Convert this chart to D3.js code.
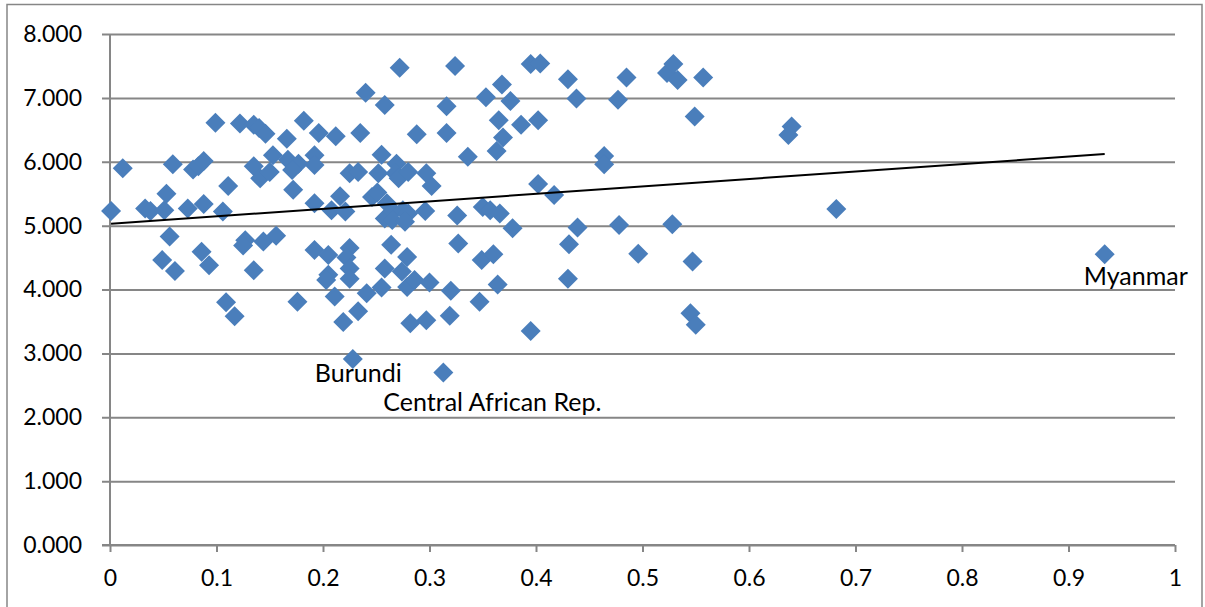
<!DOCTYPE html>
<html><head><meta charset="utf-8">
<script src="https://cdn.jsdelivr.net/npm/d3@7"></script>
<style>body{margin:0;background:#fff}svg{display:block}text{font-family:Lato,"Open Sans",sans-serif;fill:#000}</style>
</head><body>
<svg id="c" width="1205" height="607"></svg>
<script>
const pointX = [0.001,0.012,0.033,0.038,0.051,0.053,0.049,0.056,0.059,0.061,0.073,0.078,0.083,0.088,0.088,0.086,0.093,0.099,0.106,0.111,0.109,0.117,0.122,0.127,0.125,0.144,0.156,0.135,0.135,0.140,0.146,0.135,0.141,0.150,0.153,0.166,0.167,0.177,0.171,0.172,0.176,0.182,0.192,0.192,0.196,0.192,0.192,0.205,0.205,0.203,0.211,0.212,0.216,0.208,0.221,0.225,0.233,0.225,0.222,0.225,0.225,0.219,0.233,0.228,0.235,0.240,0.241,0.246,0.251,0.252,0.255,0.258,0.255,0.258,0.264,0.260,0.258,0.266,0.265,0.275,0.280,0.277,0.296,0.269,0.268,0.271,0.280,0.297,0.302,0.272,0.279,0.274,0.279,0.286,0.300,0.282,0.297,0.288,0.316,0.316,0.324,0.326,0.327,0.320,0.319,0.313,0.336,0.347,0.349,0.360,0.350,0.357,0.366,0.353,0.363,0.365,0.368,0.369,0.364,0.376,0.378,0.386,0.395,0.395,0.404,0.402,0.402,0.417,0.430,0.431,0.430,0.438,0.439,0.464,0.464,0.477,0.478,0.485,0.496,0.523,0.529,0.533,0.528,0.547,0.545,0.550,0.549,0.557,0.640,0.637,0.682,0.934];
const pointY = [5.23,5.90,5.27,5.23,5.24,5.50,4.46,4.83,5.96,4.29,5.27,5.88,5.93,6.01,5.34,4.59,4.38,6.61,5.22,5.62,3.80,3.58,6.60,4.77,4.69,4.75,4.84,4.30,6.58,6.53,6.44,5.93,5.74,5.84,6.10,6.36,6.03,5.97,5.87,5.56,3.81,6.64,6.10,5.95,6.45,5.35,4.62,4.54,4.23,4.15,3.89,6.40,5.46,5.24,5.22,5.82,5.84,4.65,4.50,4.33,4.17,3.49,3.66,2.91,6.45,7.08,3.94,5.45,5.52,5.82,6.11,6.89,4.03,4.33,4.70,5.35,5.11,5.22,5.09,5.24,5.19,5.06,5.23,5.97,5.82,5.74,5.84,5.82,5.62,7.47,4.51,4.28,4.04,4.15,4.11,3.47,3.52,6.43,6.87,6.45,7.50,5.16,4.72,3.98,3.59,2.70,6.08,3.81,4.46,4.55,5.29,5.24,5.19,7.01,6.17,6.65,7.21,6.38,4.08,6.95,4.96,6.58,3.35,7.53,7.54,6.65,5.65,5.48,7.29,4.71,4.17,6.99,4.97,6.09,5.96,6.97,5.01,7.32,4.56,7.39,7.53,7.28,5.02,4.44,3.63,3.45,6.71,7.32,6.55,6.42,5.26,4.55];
const labelNames = ["Burundi","Central African Rep.","Myanmar"];
const labelX = [0.228,0.313,0.934];
const labelY = [2.91,2.70,4.55];
const trendIntercept = 5.03;
const trendSlope = 1.167;
const xTicks = [0,0.1,0.2,0.3,0.4,0.5,0.6,0.7,0.8,0.9,1];
const yTicks = [0,1,2,3,4,5,6,7,8];

const svg = d3.select("#c");
const x = d3.scaleLinear().domain([0,1]).range([110,1175]);
const y = d3.scaleLinear().domain([0,8]).range([545,34]);
const grid = "#868686";

svg.append("rect").attr("x",7).attr("y",4.5).attr("width",1195).attr("height",620)
  .attr("fill","none").attr("stroke",grid).attr("stroke-width",1.5);

// horizontal gridlines + y labels
const gy = svg.append("g").attr("transform","translate(1175,0)");
gy.call(d3.axisLeft(y).tickValues(yTicks).tickSize(1175-102).tickFormat(d3.format(".3f")));
gy.select(".domain").remove();
gy.selectAll(".tick line").attr("stroke",grid).attr("stroke-width",2);
gy.selectAll(".tick text").attr("font-size",23).attr("font-family","Lato").attr("fill","#000").attr("x",-(1175-82)).attr("text-anchor","end");

// y axis line
svg.append("line").attr("x1",110).attr("x2",110).attr("y1",y(8)).attr("y2",y(0)).attr("stroke",grid).attr("stroke-width",2);

// x axis
const gx = svg.append("g").attr("transform",`translate(0,${y(0)})`);
gx.call(d3.axisBottom(x).tickValues(xTicks).tickSize(7).tickSizeOuter(0).tickFormat(d=>String(+d.toFixed(1))).tickPadding(18));
gx.select(".domain").attr("stroke",grid).attr("stroke-width",2).attr("d",`M102,0H1175`);
gx.selectAll(".tick line").attr("stroke",grid).attr("stroke-width",2);
gx.selectAll(".tick text").attr("font-size",23).attr("font-family","Lato").attr("fill","#000");

// points
const diamond = "M0,-10L10,0L0,10L-10,0Z";
svg.append("g").selectAll("path").data(pointX.map((v,i)=>[v,pointY[i]])).join("path")
  .attr("d",diamond).attr("transform",d=>`translate(${x(d[0])},${y(d[1])})`).attr("fill","#4a7ebb");

// trend line
const xMin = d3.min(pointX), xMax = d3.max(pointX);
svg.append("line").attr("x1",x(xMin)).attr("y1",y(trendIntercept+trendSlope*xMin))
  .attr("x2",x(xMax)).attr("y2",y(trendIntercept+trendSlope*xMax)).attr("stroke","#000").attr("stroke-width",2);

// labels
const offs = [[-38,23],[-60,38],[-21,31]];
labelNames.forEach((n,i)=>{
  svg.append("text").attr("x",x(labelX[i])+offs[i][0]).attr("y",y(labelY[i])+offs[i][1])
    .attr("font-size",25).text(n);
});
</script>
</body></html>
